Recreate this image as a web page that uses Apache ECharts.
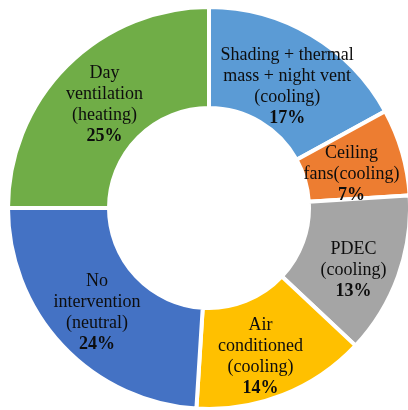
<!DOCTYPE html>
<html>
<head>
<meta charset="utf-8">
<script src="https://cdn.jsdelivr.net/npm/echarts@6/dist/echarts.min.js"></script>
<style>
  html, body { margin: 0; padding: 0; background: #fff; }
  #chart { width: 408px; height: 410px; }
</style>
</head>
<body>
<div id="chart"></div>
<script>
// Strategy shares, clockwise from 12 o'clock
const categories = [
  'Shading + thermal\nmass + night vent\n(cooling)',
  'Ceiling\nfans(cooling)',
  'PDEC\n(cooling)',
  'Air\nconditioned\n(cooling)',
  'No\nintervention\n(neutral)',
  'Day\nventilation\n(heating)'
];
const shares = [17, 7, 13, 14, 24, 25];

// Styling, kept apart from the values
const sliceColors = ['#5B9BD5', '#ED7D31', '#A5A5A5', '#FFC000', '#4472C4', '#70AD47'];
const labelNudge = [[0, 11], [-5, 9], [0, 10], [-5, 6], [0, 0], [4, 5]];

const serif = '"Liberation Serif", "Times New Roman", serif';
const chart = echarts.init(document.getElementById('chart'), null, { renderer: 'canvas' });

const data = categories.map((name, i) => ({
  name: name,
  value: shares[i],
  itemStyle: { color: sliceColors[i] },
  label: { offset: labelNudge[i] }
}));

chart.setOption({
  animation: false,
  backgroundColor: '#ffffff',
  series: [{
    type: 'pie',
    center: [209, 208],
    radius: [100, 201],
    startAngle: 90,
    clockwise: true,
    data: data,
    itemStyle: { borderColor: '#ffffff', borderWidth: 4 },
    label: {
      show: true,
      position: 'inside',
      formatter: function (p) {
        const lines = p.name.split('\n').map(l => '{n|' + l + '}');
        return lines.join('\n') + '\n{p|' + p.value + '%}';
      },
      rich: {
        n: { fontFamily: serif, fontSize: 18, color: '#0d0d0d', lineHeight: 21, align: 'center' },
        p: { fontFamily: serif, fontSize: 18, fontWeight: 'bold', color: '#0d0d0d', lineHeight: 21, align: 'center' }
      }
    },
    labelLine: { show: false },
    emphasis: { disabled: true }
  }]
});
</script>
</body>
</html>
